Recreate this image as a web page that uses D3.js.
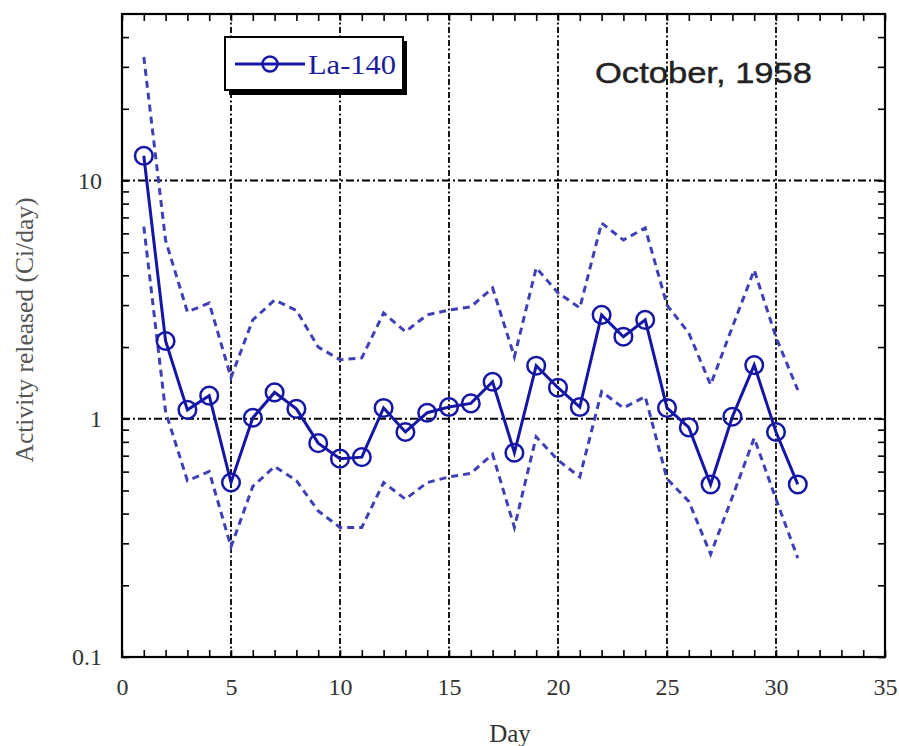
<!DOCTYPE html>
<html>
<head>
<meta charset="utf-8">
<script src="https://cdn.jsdelivr.net/npm/d3@7"></script>
<style>
  body { margin: 0; background: #fff; }
  svg { display: block; }
</style>
</head>
<body>
<script>
// days of October 1958
const days = d3.range(1, 32);

// La-140 activity released (Ci/day)
const la140 = [12.7, 2.12, 1.09, 1.25, 0.54, 1.01, 1.29, 1.10, 0.79, 0.68,
               0.69, 1.11, 0.88, 1.06, 1.12, 1.16, 1.43, 0.72, 1.67, 1.35,
               1.12, 2.73, 2.21, 2.60, 1.11, 0.92, 0.53, 1.02, 1.68, 0.88, 0.53];

// upper / lower dashed bounds
const upper = [33, 5.6, 2.81, 3.06, 1.49, 2.6, 3.15, 2.85, 2.0, 1.77,
               1.80, 2.78, 2.32, 2.73, 2.86, 2.95, 3.54, 1.82, 4.30, 3.38,
               2.92, 6.63, 5.63, 6.32, 3.0, 2.29, 1.39, 2.43, 4.21, 2.2, 1.32];
const lower = [6.4, 1.07, 0.55, 0.60, 0.29, 0.52, 0.63, 0.55, 0.41, 0.35,
               0.35, 0.54, 0.46, 0.54, 0.57, 0.59, 0.71, 0.35, 0.84, 0.67,
               0.57, 1.30, 1.11, 1.24, 0.56, 0.45, 0.27, 0.47, 0.83, 0.46, 0.26];

// ticks
const xMinorTicks = d3.range(0, 36);
const xLabelTicks = [0, 5, 10, 15, 20, 25, 30, 35];
const xGrid = [5, 10, 15, 20, 25, 30];
const yTicks = [0.1, 0.2, 0.3, 0.4, 0.5, 0.6, 0.7, 0.8, 0.9,
                1, 2, 3, 4, 5, 6, 7, 8, 9, 10, 20, 30, 40];
const yLabelTicks = [0.1, 1, 10];
const yGrid = [1, 10];

const w = 899;
const h = 746;
const pl = 122, pr = 885, pt = 14, pb = 657;

const blue = "#1616a6";
const dashBlue = "#4040b6";

const svg = d3.select("body")
  .append("svg")
  .attr("width", w)
  .attr("height", h);

const xScale = d3.scaleLinear()
  .domain([0, 35])
  .range([pl, pr]);

const yScale = d3.scaleLog()
  .domain([0.1, 50])
  .range([pb, pt]);

// grid
svg.append("g").selectAll("line")
  .data(xGrid)
  .enter()
  .append("line")
  .attr("x1", d => xScale(d))
  .attr("x2", d => xScale(d))
  .attr("y1", pt)
  .attr("y2", pb)
  .attr("stroke", "#000")
  .attr("stroke-width", 1.8)
  .attr("stroke-dasharray", "6,2.5,2,2.5");

svg.append("g").selectAll("line")
  .data(yGrid)
  .enter()
  .append("line")
  .attr("x1", pl)
  .attr("x2", pr)
  .attr("y1", d => yScale(d))
  .attr("y2", d => yScale(d))
  .attr("stroke", "#000")
  .attr("stroke-width", 1.8)
  .attr("stroke-dasharray", "8,3,2,3");

// axes (ticks pointing inward)
const fmtX = d => xLabelTicks.includes(d) ? d : "";
const fmtY = d => yLabelTicks.includes(d) ? String(d) : "";

const gBottom = svg.append("g")
  .attr("transform", `translate(0,${pb})`)
  .call(d3.axisBottom(xScale).tickValues(xMinorTicks).tickSize(-7).tickSizeOuter(0)
    .tickPadding(21).tickFormat(fmtX));

const gTop = svg.append("g")
  .attr("transform", `translate(0,${pt})`)
  .call(d3.axisTop(xScale).tickValues(xMinorTicks).tickSize(-7).tickSizeOuter(0)
    .tickFormat(""));

const gLeft = svg.append("g")
  .attr("transform", `translate(${pl},0)`)
  .call(d3.axisLeft(yScale).tickValues(yTicks).tickSize(-7).tickSizeOuter(0)
    .tickPadding(20).tickFormat(fmtY));

const gRight = svg.append("g")
  .attr("transform", `translate(${pr},0)`)
  .call(d3.axisRight(yScale).tickValues(yTicks).tickSize(-7).tickSizeOuter(0)
    .tickFormat(""));

[gBottom, gTop, gLeft, gRight].forEach(g => {
  g.select(".domain").remove();
  g.selectAll(".tick line").attr("stroke", "#000").attr("stroke-width", 1.6);
  g.selectAll("text")
    .attr("font-family", "'Liberation Serif', 'Times New Roman', serif")
    .attr("font-size", 24)
    .attr("fill", "#333");
});

// frame
svg.append("rect")
  .attr("x", pl)
  .attr("y", pt)
  .attr("width", pr - pl)
  .attr("height", pb - pt)
  .attr("fill", "none")
  .attr("stroke", "#000")
  .attr("stroke-width", 2.2);

// dashed bounds
const bound = arr => d3.line()
  .x((d, i) => xScale(days[i]))
  .y(d => yScale(d))(arr);

[upper, lower].forEach(arr => {
  svg.append("path")
    .attr("d", bound(arr))
    .attr("fill", "none")
    .attr("stroke", dashBlue)
    .attr("stroke-width", 3)
    .attr("stroke-dasharray", "7,5");
});

// main series
svg.append("path")
  .attr("d", bound(la140))
  .attr("fill", "none")
  .attr("stroke", blue)
  .attr("stroke-width", 3);

svg.append("g").selectAll("circle")
  .data(la140)
  .enter()
  .append("circle")
  .attr("cx", (d, i) => xScale(days[i]))
  .attr("cy", d => yScale(d))
  .attr("r", 8.8)
  .attr("fill", "none")
  .attr("stroke", blue)
  .attr("stroke-width", 2.5);

// legend
const legend = svg.append("g");
legend.append("rect")
  .attr("x", 229).attr("y", 41)
  .attr("width", 178).attr("height", 54)
  .attr("fill", "#000");
legend.append("rect")
  .attr("x", 225).attr("y", 37)
  .attr("width", 178).attr("height", 53)
  .attr("fill", "#fff")
  .attr("stroke", "#000")
  .attr("stroke-width", 2);
legend.append("line")
  .attr("x1", 235).attr("x2", 305)
  .attr("y1", 64).attr("y2", 64)
  .attr("stroke", blue)
  .attr("stroke-width", 3.2);
legend.append("circle")
  .attr("cx", 270).attr("cy", 64).attr("r", 7.5)
  .attr("fill", "none")
  .attr("stroke", blue)
  .attr("stroke-width", 2.5);
legend.append("text")
  .attr("x", 308).attr("y", 74)
  .attr("font-family", "'Liberation Serif', 'Times New Roman', serif")
  .attr("font-size", 27)
  .attr("textLength", 88)
  .attr("lengthAdjust", "spacingAndGlyphs")
  .attr("fill", "#1c1c9c")
  .text("La-140");

// title inside plot
svg.append("text")
  .attr("x", 595).attr("y", 83)
  .attr("font-family", "'Liberation Sans', Arial, sans-serif")
  .attr("font-size", 29)
  .attr("textLength", 217)
  .attr("lengthAdjust", "spacingAndGlyphs")
  .attr("fill", "#222")
  .attr("stroke", "#222")
  .attr("stroke-width", 0.4)
  .text("October, 1958");

// axis titles
svg.append("text")
  .attr("x", 510).attr("y", 742)
  .attr("text-anchor", "middle")
  .attr("font-family", "'Liberation Serif', 'Times New Roman', serif")
  .attr("font-size", 25)
  .attr("fill", "#333")
  .text("Day");

svg.append("text")
  .attr("transform", "translate(33,330) rotate(-90)")
  .attr("text-anchor", "middle")
  .attr("font-family", "'Liberation Serif', 'Times New Roman', serif")
  .attr("font-size", 25)
  .attr("textLength", 265)
  .attr("lengthAdjust", "spacingAndGlyphs")
  .attr("fill", "#555")
  .text("Activity released (Ci/day)");
</script>
</body>
</html>
